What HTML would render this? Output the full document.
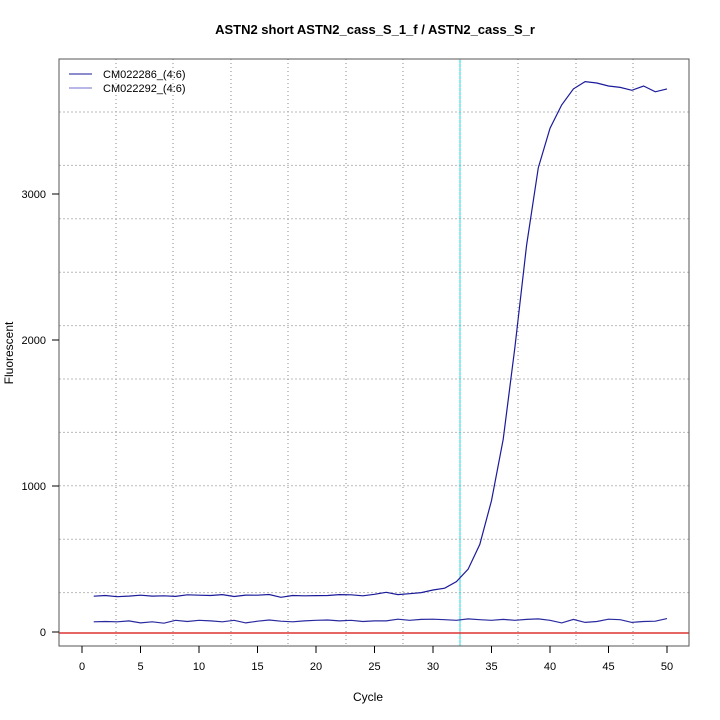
<!DOCTYPE html>
<html><head><meta charset="utf-8"><style>
body{margin:0;background:#fff}
svg{display:block;font-family:"Liberation Sans",sans-serif}
</style></head><body>
<svg id="s" width="720" height="720" viewBox="0 0 720 720">
<rect width="720" height="720" fill="#fff"/>
<text x="375" y="34" font-size="13" font-weight="bold" text-anchor="middle">ASTN2 short ASTN2_cass_S_1_f / ASTN2_cass_S_r</text>
<g id="grid" stroke="#888" stroke-width="1" stroke-dasharray="1,3"></g>
<g id="hgrid" stroke="#bbb" stroke-width="1" stroke-dasharray="2,2"></g>
<line x1="460" y1="59" x2="460" y2="646" stroke="#00e5ee" stroke-width="1"/>
<line x1="460" y1="59" x2="460" y2="646" stroke="#aaa" stroke-width="1" stroke-dasharray="1,3"/>
<line x1="59" y1="633" x2="689" y2="633" stroke="#d33" stroke-width="1.5"/>
<polyline id="p1" fill="none" stroke="#1a1a9a" stroke-width="1.2"/>
<polyline id="p2" fill="none" stroke="#2a2aa0" stroke-width="1.2"/>
<rect x="59" y="59" width="630" height="587" fill="none" stroke="#555" stroke-width="1"/>
<g id="ax" font-size="11" fill="#000"></g>
<text x="368" y="701" font-size="12" text-anchor="middle">Cycle</text>
<text x="13" y="353" font-size="12" text-anchor="middle" transform="rotate(-90 13 353)">Fluorescent</text>
<line x1="69" y1="74" x2="92" y2="74" stroke="#1a1a9a"/>
<line x1="69" y1="88" x2="92" y2="88" stroke="#6f6fd0"/>
<text x="103" y="78" font-size="11">CM022286_(4:6)</text>
<text x="103" y="92" font-size="11">CM022292_(4:6)</text>
</svg>
<script>
var NS="http://www.w3.org/2000/svg";
function el(p,t,a){var e=document.createElementNS(NS,t);for(var k in a)e.setAttribute(k,a[k]);p.appendChild(e);return e;}
var X=function(c){return 82+c*11.7},Y=function(v){return 632-v*0.146};
var g=document.getElementById('grid');
[116,173,231,288,346,403,518,576,633].forEach(function(x){el(g,'line',{x1:x,y1:59,x2:x,y2:646});});
var h=document.getElementById('hgrid');
for(var i=0;i<10;i++){var y=112+i*53.4;el(h,'line',{x1:59,y1:y,x2:689,y2:y});}
var up=[245,250,242,246,252,246,248,244,255,252,250,256,243,253,252,257,238,250,248,249,250,256,255,248,258,272,256,262,270,288,300,345,430,600,900,1320,1950,2650,3180,3450,3610,3720,3770,3760,3740,3730,3710,3740,3700,3720];
var lo=[70,72,70,76,62,70,60,80,72,80,76,70,80,62,74,82,74,70,76,80,82,76,80,72,76,76,88,80,86,88,84,80,90,84,80,86,80,86,90,80,62,86,66,72,88,84,66,72,74,92];
function pts(a){return a.map(function(v,i){return X(i+1).toFixed(1)+','+Y(v).toFixed(1)}).join(' ');}
document.getElementById('p1').setAttribute('points',pts(up));
document.getElementById('p2').setAttribute('points',pts(lo));
var ax=document.getElementById('ax');
for(var c=0;c<=50;c+=5){el(ax,'line',{x1:X(c),y1:646,x2:X(c),y2:653,stroke:'#000'});var t=el(ax,'text',{x:X(c),y:670,'text-anchor':'middle'});t.textContent=c;}
[0,1000,2000,3000].forEach(function(v){el(ax,'line',{x1:52,y1:Y(v),x2:59,y2:Y(v),stroke:'#000'});var t=el(ax,'text',{x:46,y:Y(v)+4,'text-anchor':'end'});t.textContent=v;});
</script>
</body></html>
